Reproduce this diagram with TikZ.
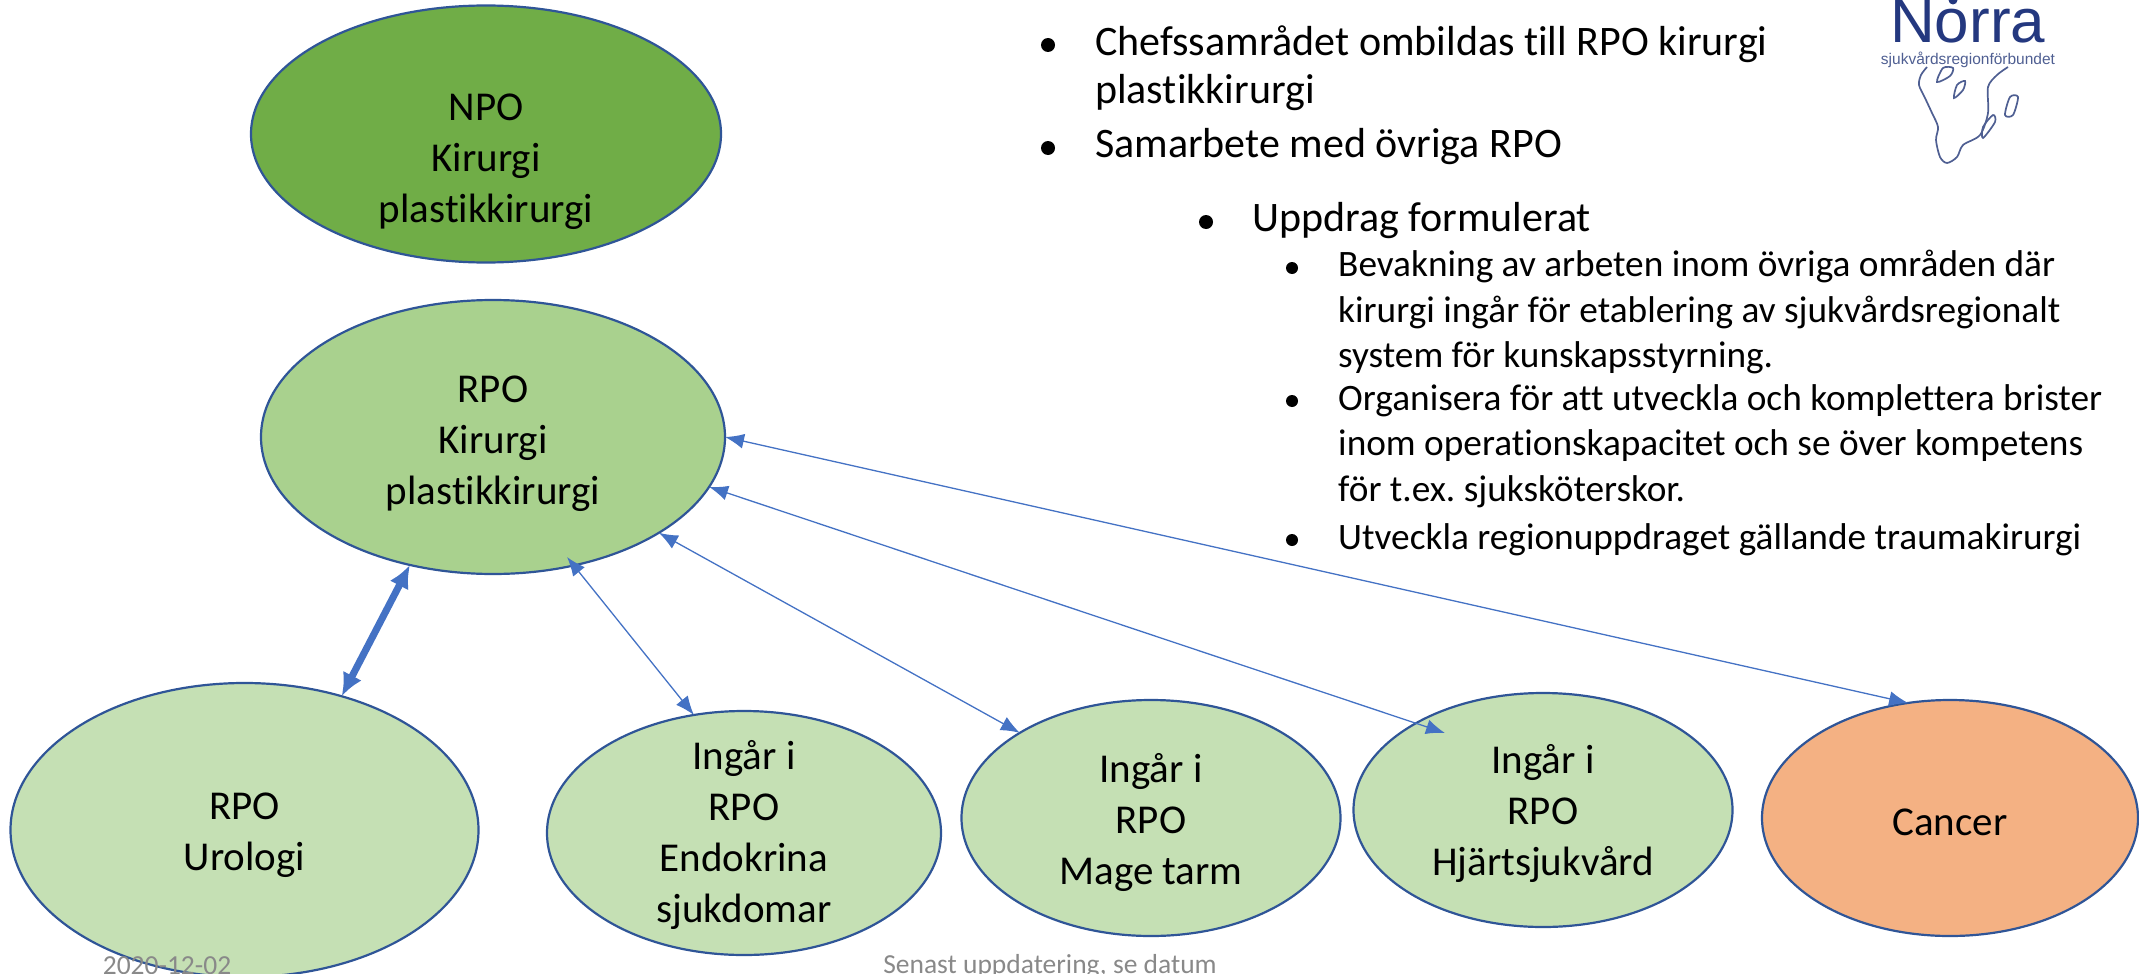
\documentclass[tikz,border=0pt]{standalone}
\usepackage{fontspec}
\setmainfont[Ligatures=NoCommon]{Carlito}
\newfontfamily\logofont{Liberation Sans}
\usetikzlibrary{shapes.geometric,arrows.meta}
\definecolor{edgeblue}{HTML}{2F5597}
\definecolor{arrowblue}{HTML}{4472C4}
\definecolor{npogreen}{HTML}{70AD47}
\definecolor{rpogreen}{HTML}{A9D18E}
\definecolor{lightgreen}{HTML}{C5E0B4}
\definecolor{canceror}{HTML}{F4B183}
\definecolor{footgray}{HTML}{898989}
\definecolor{logoblue}{HTML}{24387F}
\definecolor{logoline}{HTML}{4F5F92}
\newcommand\liftby[1]{\rule{0pt}{#1pt}}
\frenchspacing
\tikzset{
  blob/.style={ellipse,draw=edgeblue,line width=2.2pt,inner sep=-40pt,outer sep=0pt,align=center,
    font=\fontsize{41}{51}\selectfont},
  thinlink/.style={{Latex[length=19pt,width=15pt]}-{Latex[length=19pt,width=15pt]},draw=arrowblue,line width=1.3pt},
  thicklink/.style={{Latex[length=23pt,width=21pt]}-{Latex[length=23pt,width=21pt]},draw=arrowblue,line width=7pt},
  bigbody/.style={anchor=north west,inner sep=0pt,align=left,font=\fontsize{42}{48}\selectfont\frenchspacing},
  smallbody/.style={anchor=north west,inner sep=0pt,align=left,font=\fontsize{37.3}{45.6}\selectfont\frenchspacing},
  dotmark/.style={circle,fill=black,inner sep=0pt,minimum size=14pt},
  foot/.style={inner sep=0pt,text=footgray,font=\fontsize{27.5}{33}\selectfont},
  coast/.style={draw=logoline,line width=1.7pt,fill=none}
}
\begin{document}
\begin{tikzpicture}[x=1pt,y=-1pt]
\useasboundingbox (0,0) rectangle (2139,974);
\clip (0,0) rectangle (2139,974);
\node[blob,fill=npogreen,minimum width=470pt,minimum height=257pt] (npo) at (486,134) {\liftby{82}NPO\\Kirurgi\\plastikkirurgi};
\node[blob,fill=rpogreen,minimum width=464pt,minimum height=274pt] (rpo) at (493,437) {\liftby{40}RPO\\Kirurgi\\plastikkirurgi};
\node[blob,fill=lightgreen,minimum width=468pt,minimum height=294pt] (uro) at (244.5,830) {\liftby{38}RPO\\Urologi};
\node[blob,fill=lightgreen,minimum width=394pt,minimum height=244pt] (endo) at (744,833) {\liftby{34}Ingår i\\RPO\\Endokrina\\sjukdomar};
\node[blob,fill=lightgreen,minimum width=379pt,minimum height=236pt] (mage) at (1151,818) {\liftby{38}Ingår i\\RPO\\Mage tarm};
\node[blob,fill=lightgreen,minimum width=379pt,minimum height=234pt] (hjart) at (1543,810) {\liftby{36}Ingår i\\RPO\\Hjärtsjukvård};
\node[blob,fill=canceror,minimum width=376pt,minimum height=236pt] (cancer) at (1950,818) {\liftby{36}Cancer};
\coordinate (hjartin) at (1445,733);
\coordinate (rpoin) at (567,557);
\draw[thicklink] (rpo.-123.6) -- (uro.54.5);
\draw[thinlink] (rpoin) -- (endo.113.3);
\draw[thinlink] (rpo.-30.4) -- (mage.147.3);
\draw[thinlink] (rpo.-13.5) -- (hjartin);
\draw[thinlink] (rpo.0) -- (cancer.110.9);
\node[foot] (date) at (167,966) {2020-12-02};
\node[foot] (update) at (1050,966) {Senast uppdatering, se datum};
\node[dotmark] (b1) at (1048,45) {};
\node[bigbody] (t1) at (1095,26) {Chefssamrådet ombildas till RPO kirurgi\\plastikkirurgi};
\node[dotmark] (b2) at (1048,148) {};
\node[bigbody] (t2) at (1095,128) {Samarbete med övriga RPO};
\node[dotmark] (b3) at (1206,222) {};
\node[bigbody] (t3) at (1252,202) {Uppdrag formulerat};
\node[dotmark,minimum size=12pt] (b4) at (1292,268) {};
\node[smallbody] (t4) at (1338,250) {Bevakning av arbeten inom övriga områden där\\kirurgi ingår för etablering av sjukvårdsregionalt\\system för kunskapsstyrning.};
\node[dotmark,minimum size=12pt] (b5) at (1292,401) {};
\node[smallbody] (t5) at (1338,384) {Organisera för att utveckla och komplettera brister\\inom operationskapacitet och se över kompetens\\för t.ex. sjuksköterskor.};
\node[dotmark,minimum size=12pt] (b6) at (1292,540) {};
\node[smallbody] (t6) at (1338,523) {Utveckla regionuppdraget gällande traumakirurgi};
% logo
\node[anchor=base west,inner sep=0pt,text=logoblue,font=\logofont\fontsize{62}{62}\selectfont] (norra) at (1890,43) {Norra};
\node[circle,fill=logoblue,inner sep=0pt,minimum size=9pt] (logodot) at (1953,0) {};
\node[anchor=base,inner sep=0pt,text=logoline,font=\logofont\fontsize{15.5}{16}\selectfont] (forbund) at (1968,64) {sjukvårdsregionförbundet};
\draw[coast] plot[smooth,tension=0.5] coordinates {(1927,67)(1921,75)(1919,85)(1925,98)(1932,113)(1938,127)(1936,140)(1940,157)(1947,163)(1957,157)(1963,145)(1980,135)(1988,113)(1988,87)(1997,75)(2008,67)};
\draw[coast] plot[smooth cycle,tension=0.5] coordinates {(1937,82)(1943,68)(1953,68)(1950,76)};
\draw[coast] plot[smooth cycle,tension=0.5] coordinates {(1954,98)(1957,85)(1965,81)(1963,90)};
\draw[coast] plot[smooth cycle,tension=0.5] coordinates {(2005,115)(2010,97)(2018,97)(2013,115)};
\draw[coast] plot[smooth cycle,tension=0.5] coordinates {(1983,138)(1983,127)(1993,115)(1995,122)};
\end{tikzpicture}
\end{document}
